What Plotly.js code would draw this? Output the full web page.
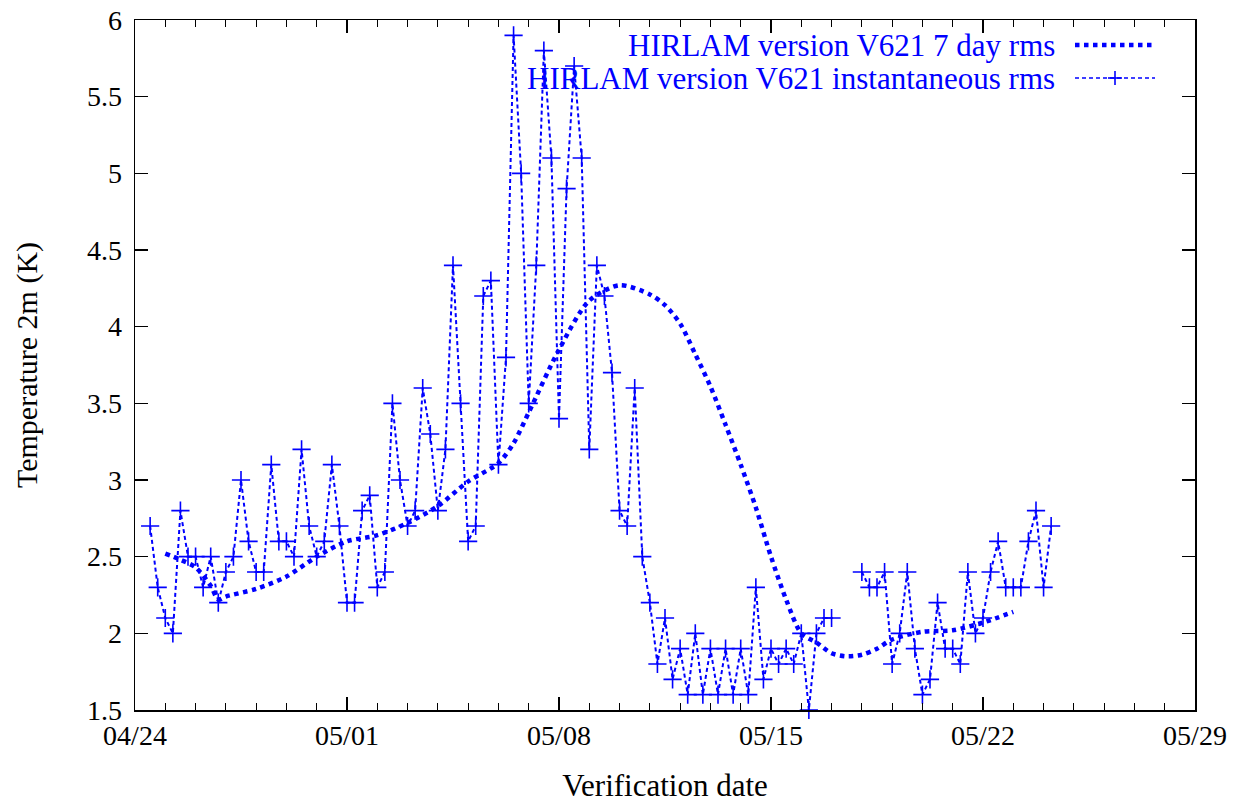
<!DOCTYPE html>
<html>
<head>
<meta charset="utf-8">
<script src="https://cdn.plot.ly/plotly-3.0.1.min.js"></script>
<style>html,body{margin:0;padding:0;background:#fff;}#chart{width:1249px;height:805px;}</style>
</head>
<body>
<div id="chart"></div>
<script>
// ---- data ----
var seriesNames = ["HIRLAM version V621 7 day rms", "HIRLAM version V621 instantaneous rms"];
var xTickLabels = ["04/24", "05/01", "05/08", "05/15", "05/22", "05/29"];
var yTickValues = [1.5, 2, 2.5, 3, 3.5, 4, 4.5, 5, 5.5, 6];

// instantaneous rms, every 6 hours starting 04/24 12:00 (null = missing)
var instStart = "2005-04-24 12:00";
var instStepHours = 6;
var instRms = [
  2.7, 2.3,
  2.1, 2.0, 2.8, 2.5,
  2.5, 2.3, 2.5, 2.2,
  2.4, 2.5, 3.0, 2.6,
  2.4, 2.4, 3.1, 2.6,
  2.6, 2.5, 3.2, 2.7,
  2.5, 2.6, 3.1, 2.7,
  2.2, 2.2, 2.8, 2.9,
  2.3, 2.4, 3.5, 3.0,
  2.7, 2.8, 3.6, 3.3,
  2.8, 3.2, 4.4, 3.5,
  2.6, 2.7, 4.2, 4.3,
  3.1, 3.8, 5.9, 5.0,
  3.5, 4.4, 5.8, 5.1,
  3.4, 4.9, 5.7, 5.1,
  3.2, 4.4, 4.2, 3.7,
  2.8, 2.7, 3.6, 2.5,
  2.2, 1.8, 2.1, 1.7,
  1.9, 1.6, 2.0, 1.6,
  1.9, 1.6, 1.9, 1.6,
  1.9, 1.6, 2.3, 1.7,
  1.9, 1.8, 1.9, 1.8,
  2.0, 1.5, 2.0, 2.1,
  2.1, null, null, null,
  2.4, 2.3, 2.3, 2.4,
  1.8, 2.0, 2.4, 1.9,
  1.6, 1.7, 2.2, 1.9,
  1.9, 1.8, 2.4, 2.0,
  2.1, 2.4, 2.6, 2.3,
  2.3, 2.3, 2.6, 2.8,
  2.3, 2.7
];

// 7 day rms
var weekDates = [
  "2005-04-25 00:00", "2005-04-25 12:00", "2005-04-26 00:00", "2005-04-26 12:00", "2005-04-26 18:00",
  "2005-04-27 00:00", "2005-04-28 00:00", "2005-04-29 00:00", "2005-04-30 00:00", "2005-05-01 00:00",
  "2005-05-02 00:00", "2005-05-03 00:00", "2005-05-04 00:00", "2005-05-05 00:00", "2005-05-06 00:00",
  "2005-05-06 12:00", "2005-05-07 00:00", "2005-05-08 00:00", "2005-05-09 00:00", "2005-05-10 00:00",
  "2005-05-11 00:00", "2005-05-11 12:00", "2005-05-12 00:00", "2005-05-12 12:00", "2005-05-13 00:00",
  "2005-05-13 12:00", "2005-05-14 00:00", "2005-05-14 12:00", "2005-05-15 00:00", "2005-05-15 12:00",
  "2005-05-16 00:00", "2005-05-16 12:00", "2005-05-17 00:00", "2005-05-17 12:00", "2005-05-18 00:00",
  "2005-05-18 12:00", "2005-05-19 00:00", "2005-05-20 00:00", "2005-05-21 00:00", "2005-05-22 00:00",
  "2005-05-23 00:00"
];
var weekRms = [
  2.52, 2.48, 2.43, 2.31, 2.22,
  2.24, 2.29, 2.37, 2.50, 2.60,
  2.64, 2.72, 2.83, 2.99, 3.11,
  3.24, 3.44, 3.85, 4.17, 4.27,
  4.21, 4.14, 4.02, 3.82, 3.61,
  3.36, 3.10, 2.82, 2.50, 2.22,
  2.00, 1.94, 1.87, 1.85, 1.86,
  1.90, 1.96, 2.01, 2.02, 2.07,
  2.14
];
var xTickDates = ["2005-04-24", "2005-05-01", "2005-05-08", "2005-05-15", "2005-05-22", "2005-05-29"];

// ---- build ----
var t0 = new Date(instStart.replace(" ", "T") + ":00Z").getTime();
function fmt(ms) {
  var d = new Date(ms);
  function p(n) { return (n < 10 ? "0" : "") + n; }
  return d.getUTCFullYear() + "-" + p(d.getUTCMonth() + 1) + "-" + p(d.getUTCDate()) + " " + p(d.getUTCHours()) + ":00";
}
var instDates = instRms.map(function (v, i) { return fmt(t0 + i * instStepHours * 3600000); });

var blue = "#0000ff";
var serif = "Liberation Serif, Times New Roman, serif";

var traces = [
  {
    type: "scatter", mode: "lines", name: seriesNames[0],
    x: weekDates, y: weekRms,
    line: { color: blue, width: 4.5, dash: "dot", shape: "spline", smoothing: 0.8 },
    hoverinfo: "x+y"
  },
  {
    type: "scatter", mode: "lines+markers", name: seriesNames[1],
    x: instDates, y: instRms, connectgaps: false,
    line: { color: blue, width: 2, dash: "4px,3px" },
    marker: { symbol: "cross-thin-open", size: 13, color: blue, line: { color: blue, width: 1.6 } },
    cliponaxis: false
  }
];

var L = 135, R = 54, T = 20, B = 95;
var W = 1249, H = 805;
var pw = W - L - R, ph = H - T - B;
function px(x) { return (x - L) / pw; }
function py(y) { return (H - B - y) / ph; }

var legRows = [45, 78];
var legTextX = px(1057);
var sx0 = px(1075), sx1 = px(1155), sxc = px(1115);

var layout = {
  width: W, height: H,
  margin: { l: L, r: R, t: T, b: B, pad: 0 },
  paper_bgcolor: "#fff", plot_bgcolor: "#fff",
  showlegend: false,
  font: { family: serif, size: 28, color: "#000" },
  xaxis: {
    type: "date",
    range: ["2005-04-24", "2005-05-29"],
    tickvals: xTickDates, ticktext: xTickLabels,
    ticks: "inside", ticklen: 13, tickwidth: 1.5, tickcolor: "#000",
    showline: true, linecolor: "#000", linewidth: 1.5, mirror: "ticks",
    showgrid: false, zeroline: false,
    tickfont: { family: serif, size: 28, color: "#000" },
    minor: { dtick: 86400000, tick0: "2005-04-24", ticks: "inside", ticklen: 7, tickwidth: 1.2, tickcolor: "#000", showgrid: false },
    title: { text: "Verification date", font: { family: serif, size: 31, color: "#000" }, standoff: 24 }
  },
  yaxis: {
    range: [1.5, 6],
    tickvals: yTickValues,
    ticktext: yTickValues.map(function (v) { return String(v); }),
    ticks: "inside", ticklen: 13, tickwidth: 1.5, tickcolor: "#000",
    showline: true, linecolor: "#000", linewidth: 1.5, mirror: "ticks",
    showgrid: false, zeroline: false,
    tickfont: { family: serif, size: 28, color: "#000" },
    ticklabelstandoff: 6,
    title: { text: "Temperature 2m (K)", font: { family: serif, size: 30, color: "#000" }, standoff: 40 }
  },
  annotations: [
    { xref: "paper", yref: "paper", x: legTextX, y: py(legRows[0]), xanchor: "right", yanchor: "middle",
      text: seriesNames[0], showarrow: false, font: { family: serif, size: 31, color: blue } },
    { xref: "paper", yref: "paper", x: legTextX, y: py(legRows[1]), xanchor: "right", yanchor: "middle",
      text: seriesNames[1], showarrow: false, font: { family: serif, size: 31, color: blue } }
  ],
  shapes: [
    { type: "line", xref: "paper", yref: "paper", x0: sx0, x1: sx1, y0: py(legRows[0]), y1: py(legRows[0]),
      line: { color: blue, width: 4.5, dash: "dot" } },
    { type: "line", xref: "paper", yref: "paper", x0: sx0, x1: sx1, y0: py(legRows[1]), y1: py(legRows[1]),
      line: { color: blue, width: 1.5, dash: "4px,3px" } },
    { type: "line", xref: "paper", yref: "paper", xsizemode: "pixel", xanchor: sxc, x0: -7, x1: 7,
      y0: py(legRows[1]), y1: py(legRows[1]), line: { color: blue, width: 1.6 } },
    { type: "line", xref: "paper", yref: "paper", ysizemode: "pixel", yanchor: py(legRows[1]), y0: -7, y1: 7,
      x0: sxc, x1: sxc, line: { color: blue, width: 1.6 } }
  ]
};

Plotly.newPlot("chart", traces, layout, { displayModeBar: false, staticPlot: true });
</script>
</body>
</html>
